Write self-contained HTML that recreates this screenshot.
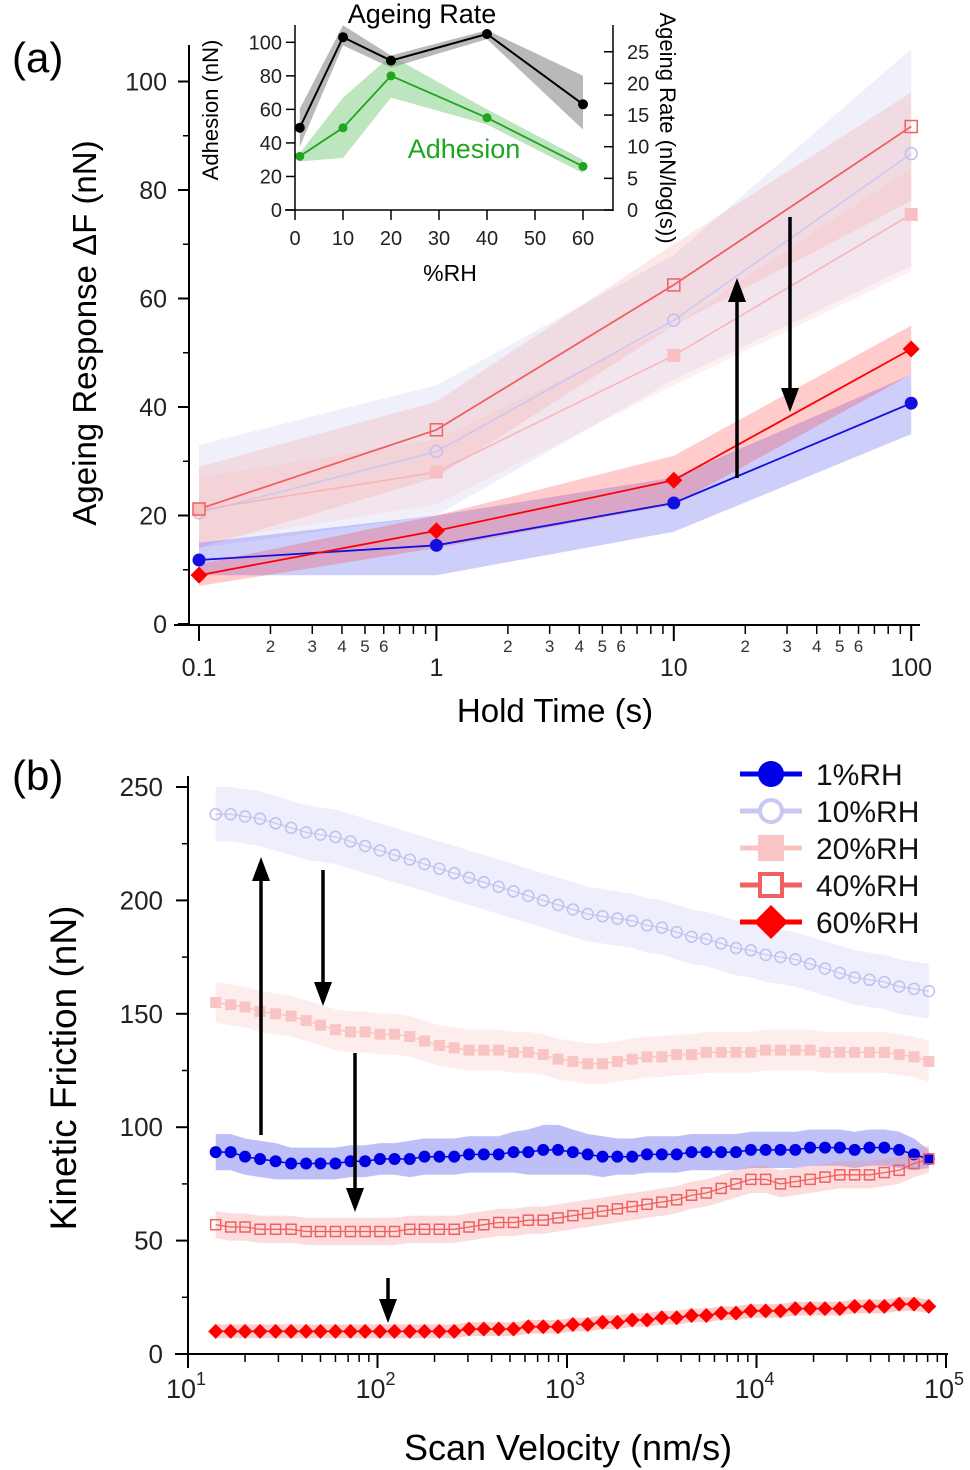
<!DOCTYPE html>
<html><head><meta charset="utf-8"><style>
html,body{margin:0;padding:0;background:#fff;}
svg{display:block;font-family:"Liberation Sans",Arial,sans-serif;}
</style></head><body>
<svg id="chart" width="970" height="1470" viewBox="0 0 970 1470" xmlns="http://www.w3.org/2000/svg">
<text x="12" y="72" font-size="42">(a)</text>
<text x="12" y="790" font-size="42">(b)</text>
<text transform="translate(96,333) rotate(-90)" text-anchor="middle" font-size="33">Ageing Response ΔF (nN)</text>
<text x="555" y="722" text-anchor="middle" font-size="33">Hold Time (s)</text>
<text transform="translate(76,1068) rotate(-90)" text-anchor="middle" font-size="37">Kinetic Friction (nN)</text>
<text x="568" y="1460" text-anchor="middle" font-size="36">Scan Velocity (nm/s)</text>
<text x="422" y="23" text-anchor="middle" font-size="27">Ageing Rate</text>
<text transform="translate(218,110) rotate(-90)" text-anchor="middle" font-size="22">Adhesion (nN)</text>
<text transform="translate(660,128) rotate(90)" text-anchor="middle" font-size="22">Ageing Rate (nN/log(s))</text>
<text x="464" y="158" text-anchor="middle" font-size="27" fill="#1fa51f">Adhesion</text>
<text x="450" y="281" text-anchor="middle" font-size="23">%RH</text>
</svg>
<script>
// ---------- Panel (a) data ----------
const holdTimes = [0.1, 1, 10, 100];
const a1 = [11.8, 14.5, 22.3, 40.7];
const a1Lo = [9, 9, 17, 35];
const a1Hi = [15, 20, 27, 46];
const a10 = [20.5, 31.8, 56, 86.7];
const a10Lo = [14, 20, 45, 66];
const a10Hi = [33, 44, 68, 106];
const a20 = [21, 28, 49.5, 75.5];
const a20Lo = [15, 22, 44, 65];
const a20Hi = [27, 34, 55, 84];
const a40 = [21.2, 35.8, 62.5, 91.7];
const a40Lo = [14, 27, 55, 78];
const a40Hi = [29, 41, 70, 98];
const a60 = [9, 17.2, 26.5, 50.7];
const a60Lo = [7, 14, 22, 46];
const a60Hi = [11, 20, 31, 55];
const aYTicks = [0, 20, 40, 60, 80, 100];
const aXMajor = [0.1, 1, 10, 100];
const aXMajorLabels = ['0.1', '1', '10', '100'];
// ---------- Inset data ----------
const rhLevels = [1, 10, 20, 40, 60];
const adhesion = [32, 49, 80, 55, 26];
const adhesionLo = [29, 31, 67, 51, 22];
const adhesionHi = [34, 67, 92, 60, 30];
const ageRate = [13, 27.3, 23.6, 27.8, 16.7];
const ageRateLo = [10, 26, 22.5, 27, 12.7];
const ageRateHi = [16, 29.2, 24.4, 28.4, 21.2];
const inXTicks = [0, 10, 20, 30, 40, 50, 60];
const inLTicks = [0, 20, 40, 60, 80, 100];
const inRTicks = [0, 5, 10, 15, 20, 25];
// ---------- Panel (b) data ----------
const velocity = [14,16.8,20,24,29,35,42,50,60,72,86,103,123,148,177,212,254,304,364,436,522,625,749,897,1074,1286,1540,1844,2208,2644,3166,3791,4540,5436,6510,7795,9335,11178,13385,16029,19194,22985,27524,32959,39468,47262,56596,67772,81155];
const f1 = [89,89,87,86,85,84,84,84,84,85,85,86,86,86,87,87,87,88,88,88,89,89,90,90,89,88,87,87,87,88,88,88,89,89,89,89,90,90,90,90,91,91,91,90,91,91,90,88,86];
const f10 = [238,238,237,236,234,232,230,229,228,226,224,222,220,218,216,214,212,210,208,206,204,202,200,198,196,194,193,192,191,189,188,186,184,183,181,179,178,176,175,174,172,170,168,166,165,164,162,161,160];
const f20 = [155,154,153,151,150,149,147,145,143,142,142,141,141,140,138,136,135,134,134,134,133,133,132,130,129,128,128,129,130,131,131,132,132,133,133,133,133,134,134,134,134,133,133,133,133,133,132,131,129];
const f40 = [57,56,56,55,55,55,54,54,54,54,54,54,54,55,55,55,55,56,57,58,58,59,59,60,61,62,63,64,65,66,67,68,70,71,73,75,77,77,75,76,77,78,79,79,79,80,81,84,86];
const f60 = [10,10,10,10,10,10,10,10,10,10,10,10,10,10,10,10,10,11,11,11,11,12,12,12,13,13,14,14,15,15,16,16,17,17,18,18,19,19,19,20,20,20,20,21,21,21,22,22,21];
const bHalf1 = [8,8,8,8,8,7,7,7,7,7,7,7,7,8,8,8,8,8,8,8,9,10,11,11,10,9,9,8,8,8,8,8,8,8,8,8,8,8,8,8,8,8,8,8,8,8,8,7,4];
const bYTicks = [0, 50, 100, 150, 200, 250];
const bXExp = [1, 2, 3, 4, 5];

const NS = 'http://www.w3.org/2000/svg';
const svg = document.getElementById('chart');
function mk(tag, attrs, parent) {
  const e = document.createElementNS(NS, tag);
  for (const k in attrs) e.setAttribute(k, attrs[k]);
  (parent || svg).appendChild(e);
  return e;
}
const xa = t => 199 + (Math.log10(t) + 1) * 237.4;
const ya = v => 624 - v * 5.425;
const xb = v => 188 + (Math.log10(v) - 1) * 189.5;
const yb = f => 1354 - f * 2.268;
const xi = r => 295 + r * 4.8;
const yiL = a => 210 - a * 1.677;
const yiR = r => 210 - r * 6.33;

function band(xs, lo, hi, fx, fy, fill, op, name) {
  let d = '';
  xs.forEach((x, i) => { d += (i ? 'L' : 'M') + fx(x).toFixed(1) + ',' + fy(hi[i]).toFixed(1); });
  for (let i = xs.length - 1; i >= 0; i--) d += 'L' + fx(xs[i]).toFixed(1) + ',' + fy(lo[i]).toFixed(1);
  const p = mk('path', {d: d + 'Z', fill: fill, 'fill-opacity': op, stroke: 'none'});
  
  
}
function line(xs, ys, fx, fy, color, w, name) {
  const pts = xs.map((x, i) => fx(x).toFixed(1) + ',' + fy(ys[i]).toFixed(1)).join(' ');
  const p = mk('polyline', {points: pts, fill: 'none', stroke: color, 'stroke-width': w});
  
  
}
function marker(type, cx, cy, s, color) {
  let e;
  if (type === 'circle') e = mk('circle', {cx: cx, cy: cy, r: s, fill: color});
  else if (type === 'ocircle') e = mk('circle', {cx: cx, cy: cy, r: s, fill: 'none', stroke: color, 'stroke-width': 1.5});
  else if (type === 'square') e = mk('rect', {x: cx - s, y: cy - s, width: 2 * s, height: 2 * s, fill: color});
  else if (type === 'osquare') e = mk('rect', {x: cx - s, y: cy - s, width: 2 * s, height: 2 * s, fill: 'none', stroke: color, 'stroke-width': 1.5});
  else e = mk('polygon', {points: `${cx},${cy - s} ${cx + s},${cy} ${cx},${cy + s} ${cx - s},${cy}`, fill: color});
  return e;
}
function markers(xs, ys, fx, fy, type, s, color, name) {
  xs.forEach((x, i) => {
    const m = marker(type, fx(x), fy(ys[i]), s, color);
    
    
  });
}
function txt(x, y, s, size, anchor, name, fill) {
  const t = mk('text', {x: x, y: y, 'font-size': size, 'text-anchor': anchor || 'middle', fill: fill || '#000'});
  t.textContent = s;
  
  
  return t;
}
function seg(x1, y1, x2, y2, w, name) {
  const l = mk('line', {x1: x1, y1: y1, x2: x2, y2: y2, stroke: '#000', 'stroke-width': w});
  
  
}
function arrow(x, y1, y2, name) {
  const dir = y2 > y1 ? 1 : -1;
  const l = mk('line', {x1: x, y1: y1, x2: x, y2: y2 - dir * 20, stroke: '#000', 'stroke-width': 3.5});
  
  
  const h = mk('polygon', {points: `${x - 9},${y2 - dir * 24} ${x + 9},${y2 - dir * 24} ${x},${y2}`, fill: '#000'});
  
  
}

// ===== Panel (a) =====
band(holdTimes, a10Lo, a10Hi, xa, ya, '#c8c8f2', 0.28, 'band-a-10rh');
band(holdTimes, a20Lo, a20Hi, xa, ya, '#fbcaca', 0.28, 'band-a-20rh');
band(holdTimes, a40Lo, a40Hi, xa, ya, '#f48888', 0.2, 'band-a-40rh');
band(holdTimes, a1Lo, a1Hi, xa, ya, '#5050ee', 0.28, 'band-a-1rh');
band(holdTimes, a60Lo, a60Hi, xa, ya, '#ff3030', 0.25, 'band-a-60rh');
line(holdTimes, a10, xa, ya, '#c8c8f0', 1.5, 'line-a-10rh');
line(holdTimes, a20, xa, ya, '#f7b4b4', 1.5, 'line-a-20rh');
line(holdTimes, a40, xa, ya, '#f06060', 1.8, 'line-a-40rh');
line(holdTimes, a1, xa, ya, '#1010e0', 1.8, 'line-a-1rh');
line(holdTimes, a60, xa, ya, '#ff0000', 1.8, 'line-a-60rh');
markers(holdTimes, a10, xa, ya, 'ocircle', 6, '#c0c0ee', 'marker-a-10rh');
markers(holdTimes, a20, xa, ya, 'square', 6.5, '#f8c0c0', 'marker-a-20rh');
markers(holdTimes, a40, xa, ya, 'osquare', 6, '#f06060', 'marker-a-40rh');
markers(holdTimes, a1, xa, ya, 'circle', 6.5, '#1010e0', 'marker-a-1rh');
markers(holdTimes, a60, xa, ya, 'diamond', 8.5, '#ff0000', 'marker-a-60rh');
arrow(737, 478, 278, 'arrow-a-up');
arrow(790, 217, 412, 'arrow-a-down');
// axes (a)
seg(189, 45, 189, 626, 2, 'y-axis-a');
seg(174, 625, 920, 625, 2, 'x-axis-a');
aYTicks.forEach(v => {
  seg(178, ya(v), 189, ya(v), 2, 'y-tick-a');
  txt(167, ya(v) + 9, String(v), 25, 'end', 'y-tick-label-a', '#222');
});
for (let v = 10; v < 110; v += 20) seg(183, ya(v), 189, ya(v), 1.5, 'y-minor-tick-a');
aXMajor.forEach((t, i) => {
  seg(xa(t), 626, xa(t), 641, 2, 'x-tick-a');
  txt(xa(t), 676, aXMajorLabels[i], 25, 'middle', 'x-tick-label-a', '#222');
  if (t < 100) {
    for (let m = 2; m <= 9; m++) {
      seg(xa(t * m), 626, xa(t * m), 634, 1.5, 'x-minor-tick-a');
      if (m <= 6) txt(xa(t * m), 652, String(m), 17, 'middle', 'x-minor-label-a', '#333');
    }
  }
});

// ===== Inset =====
band(rhLevels, ageRateLo, ageRateHi, xi, yiR, '#808080', 0.55, 'band-inset-ageing-rate');
band(rhLevels, adhesionLo, adhesionHi, xi, yiL, '#5cc05c', 0.4, 'band-inset-adhesion');
line(rhLevels, ageRate, xi, yiR, '#000', 2, 'line-inset-ageing-rate');
line(rhLevels, adhesion, xi, yiL, '#1fa51f', 1.8, 'line-inset-adhesion');
markers(rhLevels, ageRate, xi, yiR, 'circle', 5, '#000', 'marker-inset-ageing-rate');
markers(rhLevels, adhesion, xi, yiL, 'circle', 4.5, '#1fa51f', 'marker-inset-adhesion');
seg(295, 25, 295, 211, 1.5, 'inset-left-axis');
seg(613, 25, 613, 211, 1.5, 'inset-right-axis');
seg(285, 210, 613, 210, 1.5, 'inset-x-axis');
inXTicks.forEach(v => {
  seg(xi(v), 210, xi(v), 220, 1.5, 'inset-x-tick');
  txt(xi(v), 245, String(v), 20, 'middle', 'inset-x-tick-label', '#222');
});
inLTicks.forEach(v => {
  seg(286, yiL(v), 295, yiL(v), 1.5, 'inset-left-tick');
  txt(282, yiL(v) + 7, String(v), 20, 'end', 'inset-left-tick-label', '#222');
});
inRTicks.forEach(v => {
  seg(604, yiR(v), 613, yiR(v), 1.5, 'inset-right-tick');
  txt(627, yiR(v) + 7, String(v), 20, 'start', 'inset-right-tick-label', '#222');
});

// ===== Panel (b) =====
const bHalf10 = f10.map(() => 12);
const bHalf20 = f20.map(() => 9);
const bHalf40 = f40.map(() => 6);
const bHalf60 = f60.map(() => 3);
function bandHalf(ys, half, fill, op, name) {
  band(velocity, ys.map((y, i) => y - half[i]), ys.map((y, i) => y + half[i]), xb, yb, fill, op, name);
}
bandHalf(f10, bHalf10, '#c8c8f4', 0.3, 'band-b-10rh');
bandHalf(f20, bHalf20, '#fbcaca', 0.35, 'band-b-20rh');
bandHalf(f1, bHalf1, '#6060ee', 0.4, 'band-b-1rh');
bandHalf(f40, bHalf40, '#f48a8a', 0.3, 'band-b-40rh');
bandHalf(f60, bHalf60, '#ff5050', 0.3, 'band-b-60rh');
line(velocity, f10, xb, yb, '#c8c8f0', 1.3, 'line-b-10rh');
line(velocity, f20, xb, yb, '#f8c0c0', 1.3, 'line-b-20rh');
line(velocity, f1, xb, yb, '#0000e6', 1.5, 'line-b-1rh');
line(velocity, f40, xb, yb, '#f06060', 1.3, 'line-b-40rh');
line(velocity, f60, xb, yb, '#ff0000', 1.5, 'line-b-60rh');
markers(velocity, f10, xb, yb, 'ocircle', 5.5, '#c0c0ee', 'marker-b-10rh');
markers(velocity, f20, xb, yb, 'square', 5.5, '#f8c4c4', 'marker-b-20rh');
markers(velocity, f1, xb, yb, 'circle', 6, '#0000e6', 'marker-b-1rh');
markers(velocity, f40, xb, yb, 'osquare', 5, '#f06060', 'marker-b-40rh');
markers(velocity, f60, xb, yb, 'diamond', 7.5, '#ff0000', 'marker-b-60rh');
arrow(261, 1135, 857, 'arrow-b-up');
arrow(323, 870, 1006, 'arrow-b-down-1');
arrow(355, 1053, 1212, 'arrow-b-down-2');
arrow(388, 1278, 1323, 'arrow-b-down-3');
seg(188, 776, 188, 1355, 2, 'y-axis-b');
seg(175, 1354, 948, 1354, 2, 'x-axis-b');
bYTicks.forEach(v => {
  seg(176, yb(v), 188, yb(v), 2, 'y-tick-b');
  txt(163, yb(v) + 9, String(v), 26, 'end', 'y-tick-label-b', '#222');
});
for (let v = 25; v < 260; v += 50) seg(182, yb(v), 188, yb(v), 1.5, 'y-minor-tick-b');
bXExp.forEach(e => {
  const v = Math.pow(10, e);
  seg(xb(v), 1354, xb(v), 1368, 2, 'x-tick-b');
  const t = txt(xb(v) - 2, 1398, '10', 27, 'middle', 'x-tick-label-b', '#222');
  const sup = mk('tspan', {dy: -13, 'font-size': 18});
  sup.textContent = String(e);
  
  
  t.appendChild(sup);
  if (e < 5) for (let m = 2; m <= 9; m++) seg(xb(v * m), 1354, xb(v * m), 1362, 1.5, 'x-minor-tick-b');
});
// legend
const legNames = ['1%RH', '10%RH', '20%RH', '40%RH', '60%RH'];
const legTypes = ['circle', 'ocircle', 'square', 'osquare', 'diamond'];
const legColors = ['#0000e6', '#c8c8f0', '#f8c4c4', '#f06060', '#ff0000'];
const legSizes = [13, 11, 13, 11, 17];
legNames.forEach((n, i) => {
  const y = 774 + i * 37;
  const g = mk('g', {});
  
  
  const l = mk('line', {x1: 740, y1: y, x2: 802, y2: y, stroke: legColors[i], 'stroke-width': 5}, g);
  
  
  const m = marker(legTypes[i], 771, y, legSizes[i], legColors[i]);
  if (legTypes[i] === 'ocircle' || legTypes[i] === 'osquare') { m.setAttribute('stroke-width', 4); m.setAttribute('fill', '#fff'); }
  g.appendChild(m);
  
  
  const t = txt(816, y + 11, n, 30, 'start', 'legend-label', '#111');
  g.appendChild(t);
});
</script>
</body></html>
